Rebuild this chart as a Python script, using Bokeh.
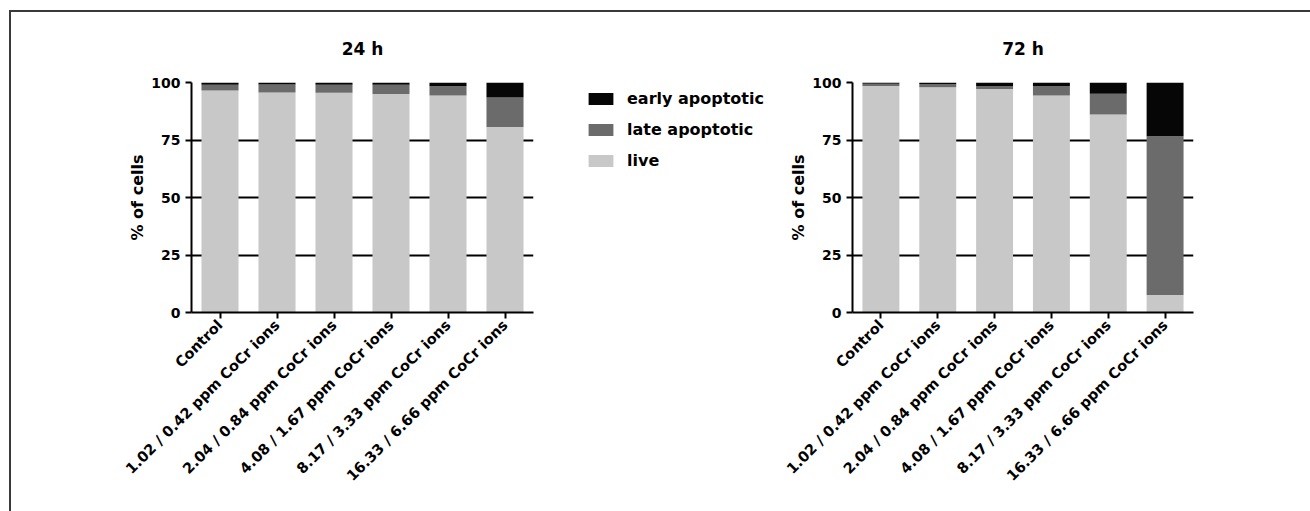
import math
from bokeh.plotting import figure
from bokeh.models import FactorRange, FixedTicker, Legend, LegendItem, Range1d, ColumnDataSource
from bokeh.layouts import row
from bokeh.embed import file_html
from bokeh.resources import INLINE

categories = ["Control",
              "1.02 / 0.42 ppm CoCr ions",
              "2.04 / 0.84 ppm CoCr ions",
              "4.08 / 1.67 ppm CoCr ions",
              "8.17 / 3.33 ppm CoCr ions",
              "16.33 / 6.66 ppm CoCr ions"]

live_24 = [96.5, 95.6, 95.5, 95.0, 94.3, 80.6]
late_24 = [2.5, 3.5, 3.5, 4.0, 4.1, 12.9]
early_24 = [1.0, 0.9, 1.0, 1.0, 1.6, 6.5]

live_72 = [98.5, 97.9, 97.2, 94.3, 86.1, 7.6]
late_72 = [1.0, 1.5, 1.3, 4.2, 9.0, 69.0]
early_72 = [0.5, 0.6, 1.5, 1.5, 4.9, 23.4]

series_labels = ["early apoptotic", "late apoptotic", "live"]
y_ticks = [0, 25, 50, 75, 100]
grid_ticks = [25, 50, 75]

EARLY = "#060606"
LATE = "#6b6b6b"
LIVE = "#c8c8c8"
FONT = "DejaVu Sans"


def make_plot(title, live, late, early, width, mbl, mbr):
    src = ColumnDataSource(dict(cat=categories, live=live, late=late, early=early))
    p = figure(x_range=FactorRange(*categories), y_range=Range1d(0, 100),
               width=width, height=490, output_backend="svg", toolbar_location=None,
               min_border_left=mbl, min_border_right=mbr, min_border_top=70,
               min_border_bottom=190, title=title)
    p.vbar_stack(["live", "late", "early"], x="cat", width=0.65, source=src,
                 fill_color=[LIVE, LATE, EARLY], line_color=None)
    p.title.text_font = FONT
    p.title.text_font_style = "bold"
    p.title.text_font_size = "17px"
    p.title.text_color = "black"
    p.title.align = "center"
    p.title.standoff = 48
    p.outline_line_color = None
    p.xgrid.visible = False
    p.ygrid.ticker = FixedTicker(ticks=grid_ticks)
    p.ygrid.grid_line_color = "black"
    p.ygrid.grid_line_width = 2
    p.yaxis.ticker = FixedTicker(ticks=y_ticks)
    p.yaxis.axis_label = "% of cells"
    p.yaxis.axis_label_text_font = FONT
    p.yaxis.axis_label_text_font_style = "bold"
    p.yaxis.axis_label_text_font_size = "16px"
    p.yaxis.axis_label_text_color = "black"
    p.yaxis.axis_label_standoff = 1
    for ax in (p.xaxis[0], p.yaxis[0]):
        ax.axis_line_width = 2
        ax.axis_line_color = "black"
        ax.major_tick_line_width = 2
        ax.major_tick_line_color = "black"
        ax.major_tick_out = 6
        ax.major_tick_in = 0
        ax.minor_tick_line_color = None
        ax.major_label_text_font = FONT
        ax.major_label_text_font_style = "bold"
        ax.major_label_text_color = "black"
    p.yaxis.major_label_text_font_size = "14px"
    p.xaxis.major_label_text_font_size = "14.5px"
    p.xaxis.major_label_orientation = math.pi / 4
    p.xaxis.major_label_standoff = 4
    return p


p1 = make_plot("24 h", live_24, late_24, early_24, 549, 180, 27)

leg = figure(width=220, height=490, output_backend="svg", toolbar_location=None,
             x_axis_location=None, y_axis_location=None,
             min_border_left=18, min_border_top=70, min_border_right=0, min_border_bottom=190,
             x_range=Range1d(0, 1), y_range=Range1d(0, 1))
leg.grid.visible = False
leg.outline_line_color = None
swatch_colors = [EARLY, LATE, LIVE]
items = []
for lab, col in zip(series_labels, swatch_colors):
    r = leg.vbar(x=[5], top=[0], bottom=[0], width=0.5, fill_color=col, line_color=None)
    items.append(LegendItem(label=lab, renderers=[r]))
legend = Legend(items=items,
                location="top_left", margin=7, padding=0, glyph_width=31, glyph_height=15,
                label_standoff=11, spacing=12, border_line_color=None, background_fill_alpha=0,
                label_text_font=FONT, label_text_font_style="bold", label_text_font_size="16px",
                label_text_color="black")
leg.add_layout(legend)

p2 = make_plot("72 h", live_72, late_72, early_72, 520, 72, 107)

layout = row(p1, leg, p2, styles={"border-top": "2px solid #3a3a3a",
                                  "border-left": "2px solid #3a3a3a",
                                  "margin-left": "9px", "margin-top": "10px",
                                  "width": "1301px", "height": "501px",
                                  "box-sizing": "border-box"})

open("out.html", "w").write(file_html(layout, INLINE))
